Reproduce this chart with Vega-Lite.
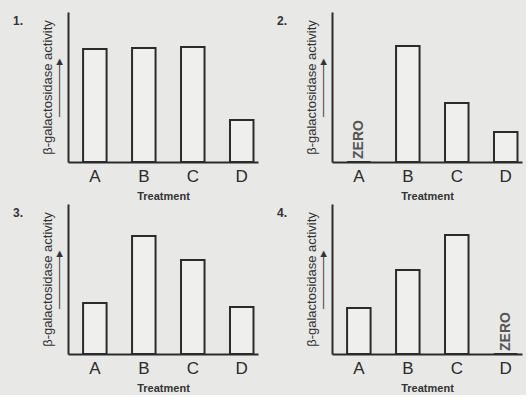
{
  "$schema": "https://vega.github.io/schema/vega-lite/v6.json",
  "background": "#e8e8e6",
  "padding": {"left": 12, "top": 12, "right": 4, "bottom": 2},
  "datasets": {
    "d": [
      {"panel": 1, "t": "A", "v": 113, "label": ""},
      {"panel": 1, "t": "B", "v": 114, "label": ""},
      {"panel": 1, "t": "C", "v": 115, "label": ""},
      {"panel": 1, "t": "D", "v": 42, "label": ""},
      {"panel": 2, "t": "A", "v": 0, "label": "ZERO"},
      {"panel": 2, "t": "B", "v": 116, "label": ""},
      {"panel": 2, "t": "C", "v": 59, "label": ""},
      {"panel": 2, "t": "D", "v": 30, "label": ""},
      {"panel": 3, "t": "A", "v": 51, "label": ""},
      {"panel": 3, "t": "B", "v": 118, "label": ""},
      {"panel": 3, "t": "C", "v": 94, "label": ""},
      {"panel": 3, "t": "D", "v": 47, "label": ""},
      {"panel": 4, "t": "A", "v": 46, "label": ""},
      {"panel": 4, "t": "B", "v": 84, "label": ""},
      {"panel": 4, "t": "C", "v": 119, "label": ""},
      {"panel": 4, "t": "D", "v": 0, "label": "ZERO"}
    ]
  },
  "columns": 2,
  "spacing": {"column": 18, "row": 3},
  "concat": [
    {
      "title": "1.",
      "width": 190, "height": 150,
      "data": {"name": "d"},
      "transform": [{"filter": "datum.panel == 1"}],
      "encoding": {
        "x": {"field": "t", "type": "nominal", "title": "Treatment", "scale": {"paddingInner": 0.52, "paddingOuter": 0.2, "align": 0.77}},
        "y": {"field": "v", "type": "quantitative", "scale": {"domain": [0, 150], "nice": false}, "title": ["β-galactosidase activity", "\u2003\u2003\u2003————▸"]}
      },
      "layer": [
        {"mark": {"type": "bar", "fill": "#efefed", "stroke": "#2b2b2b", "strokeWidth": 2}},
        {"mark": {"type": "text", "angle": 270, "align": "left", "baseline": "middle", "dx": 3, "fontSize": 14, "fontWeight": "bold", "color": "#555"}, "encoding": {"text": {"field": "label"}}}
      ]
    },
    {
      "title": "2.",
      "width": 190, "height": 150,
      "data": {"name": "d"},
      "transform": [{"filter": "datum.panel == 2"}],
      "encoding": {
        "x": {"field": "t", "type": "nominal", "title": "Treatment", "scale": {"paddingInner": 0.52, "paddingOuter": 0.2, "align": 0.77}},
        "y": {"field": "v", "type": "quantitative", "scale": {"domain": [0, 150], "nice": false}, "title": ["β-galactosidase activity", "\u2003\u2003\u2003————▸"]}
      },
      "layer": [
        {"mark": {"type": "bar", "fill": "#efefed", "stroke": "#2b2b2b", "strokeWidth": 2}},
        {"mark": {"type": "text", "angle": 270, "align": "left", "baseline": "middle", "dx": 3, "fontSize": 14, "fontWeight": "bold", "color": "#555"}, "encoding": {"text": {"field": "label"}}}
      ]
    },
    {
      "title": "3.",
      "width": 190, "height": 150,
      "data": {"name": "d"},
      "transform": [{"filter": "datum.panel == 3"}],
      "encoding": {
        "x": {"field": "t", "type": "nominal", "title": "Treatment", "scale": {"paddingInner": 0.52, "paddingOuter": 0.2, "align": 0.77}},
        "y": {"field": "v", "type": "quantitative", "scale": {"domain": [0, 150], "nice": false}, "title": ["β-galactosidase activity", "\u2003\u2003\u2003————▸"]}
      },
      "layer": [
        {"mark": {"type": "bar", "fill": "#efefed", "stroke": "#2b2b2b", "strokeWidth": 2}},
        {"mark": {"type": "text", "angle": 270, "align": "left", "baseline": "middle", "dx": 3, "fontSize": 14, "fontWeight": "bold", "color": "#555"}, "encoding": {"text": {"field": "label"}}}
      ]
    },
    {
      "title": "4.",
      "width": 190, "height": 150,
      "data": {"name": "d"},
      "transform": [{"filter": "datum.panel == 4"}],
      "encoding": {
        "x": {"field": "t", "type": "nominal", "title": "Treatment", "scale": {"paddingInner": 0.52, "paddingOuter": 0.2, "align": 0.77}},
        "y": {"field": "v", "type": "quantitative", "scale": {"domain": [0, 150], "nice": false}, "title": ["β-galactosidase activity", "\u2003\u2003\u2003————▸"]}
      },
      "layer": [
        {"mark": {"type": "bar", "fill": "#efefed", "stroke": "#2b2b2b", "strokeWidth": 2}},
        {"mark": {"type": "text", "angle": 270, "align": "left", "baseline": "middle", "dx": 3, "fontSize": 14, "fontWeight": "bold", "color": "#555"}, "encoding": {"text": {"field": "label"}}}
      ]
    }
  ],
  "config": {
    "font": "Liberation Sans",
    "view": {"stroke": null},
    "title": {"orient": "left", "anchor": "end", "angle": 0, "fontSize": 12, "fontWeight": "bold", "color": "#333", "offset": 8, "baseline": "top", "dy": 4},
    "axisX": {"domainColor": "#2b2b2b", "domainWidth": 2, "ticks": false, "labelAngle": 0, "labelFontSize": 17, "labelColor": "#2b2b2b", "labelPadding": 6, "titleFontSize": 11, "titleFontWeight": "bold", "titleColor": "#333", "titlePadding": 6},
    "axisY": {"domainColor": "#2b2b2b", "domainWidth": 2, "ticks": false, "labels": false, "grid": false, "titleFontSize": 13, "titleFontWeight": "normal", "titleColor": "#333", "titlePadding": 3, "titleLineHeight": 11}
  }
}
